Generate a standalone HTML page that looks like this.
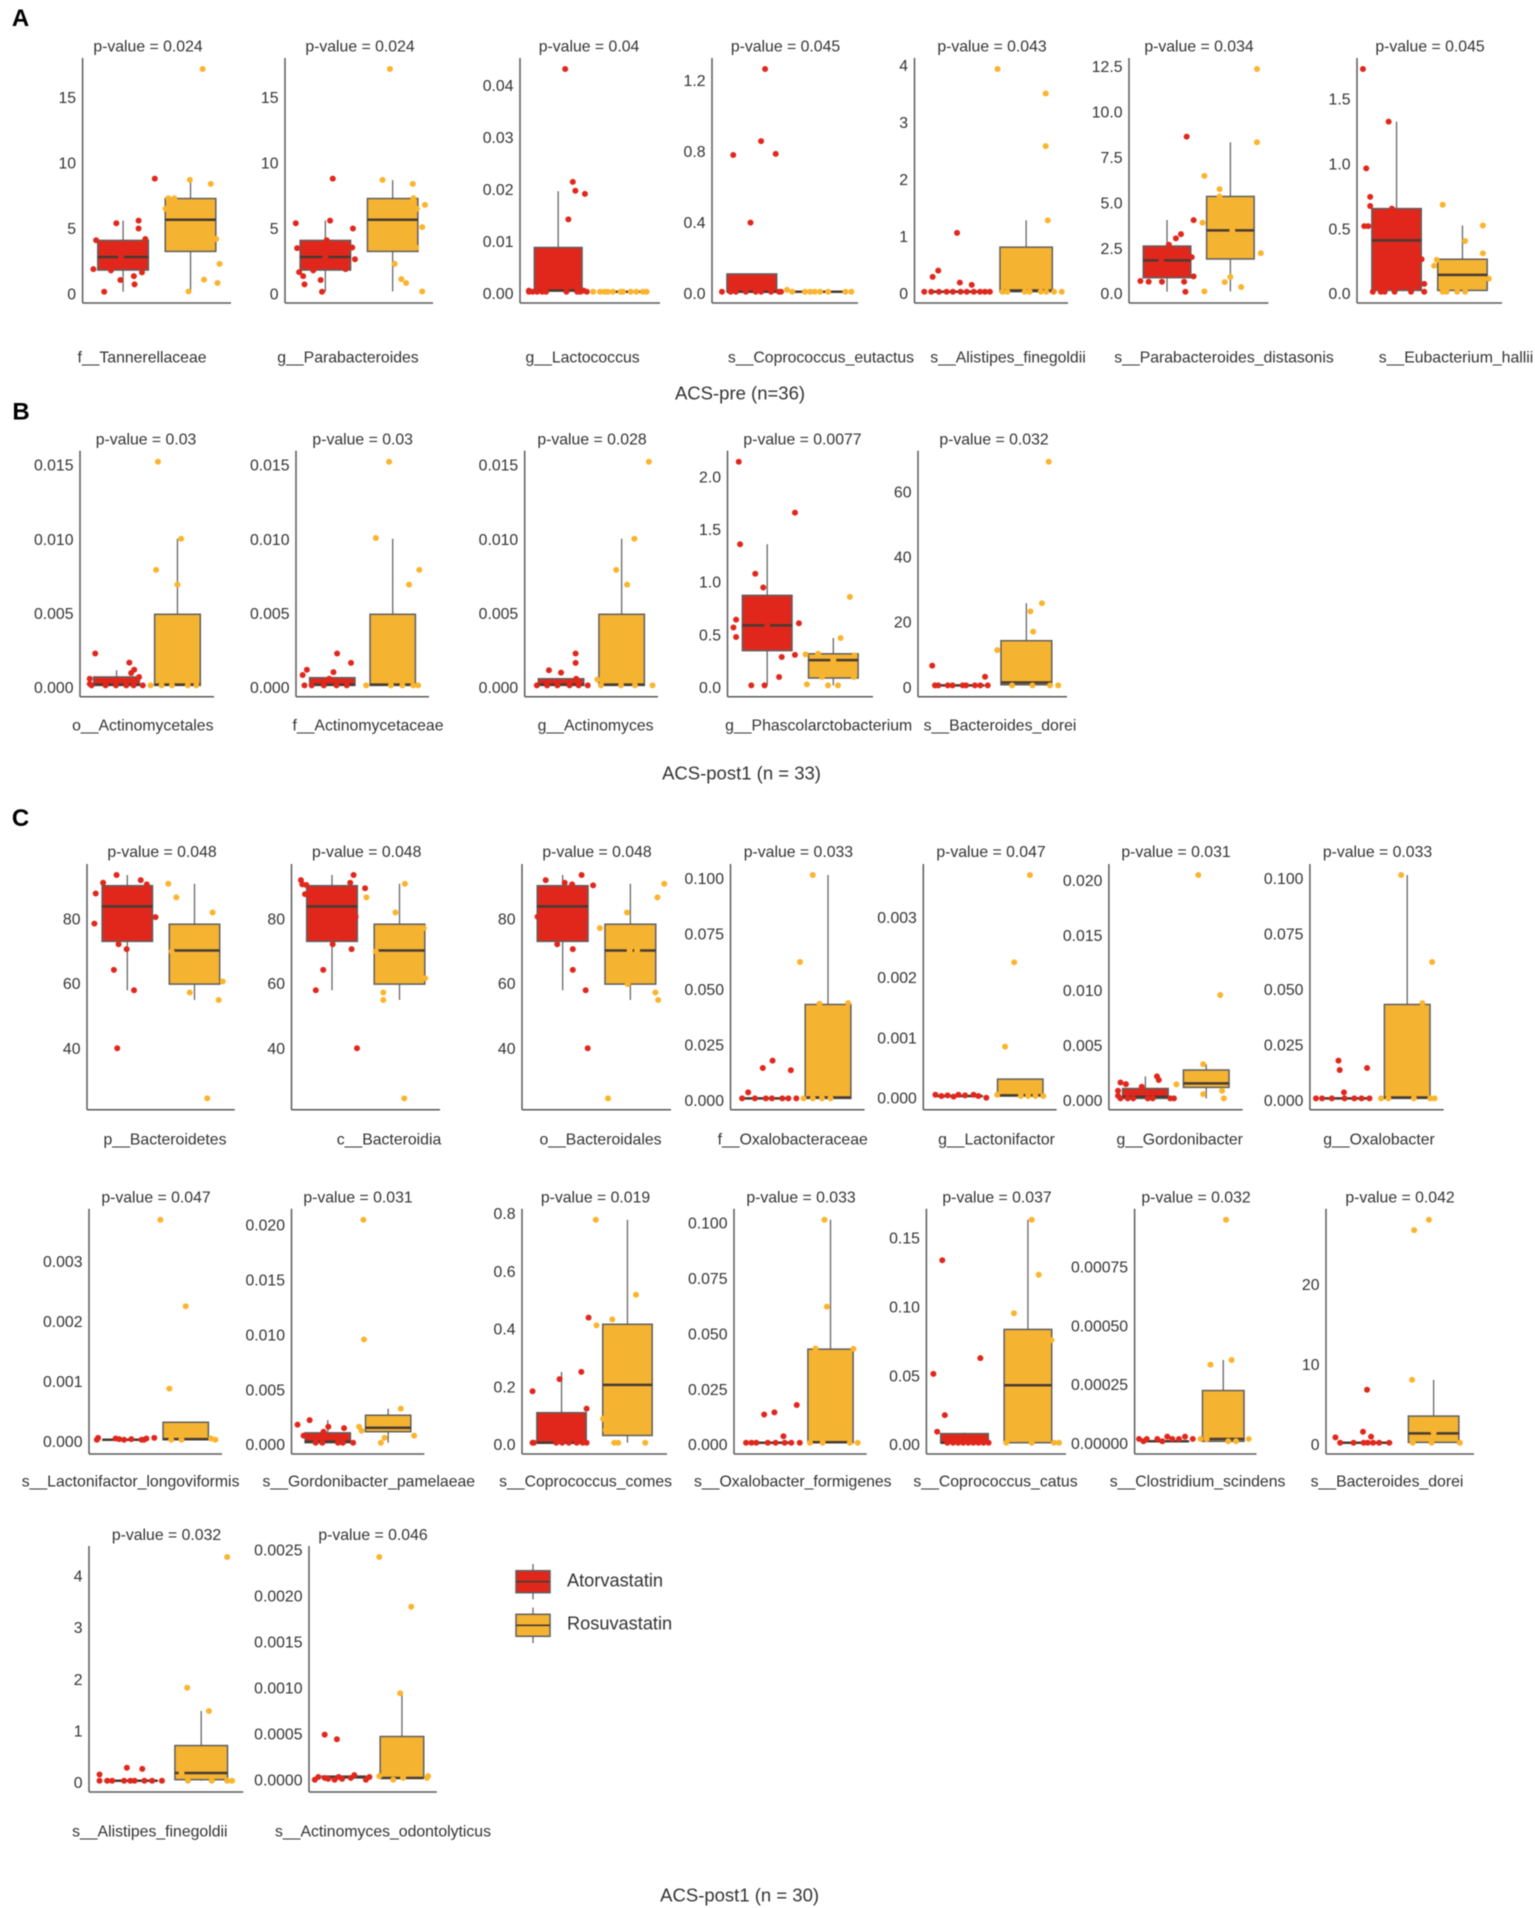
<!DOCTYPE html>
<html lang="en">
<head>
<meta charset="utf-8">
<title>Differential taxa boxplots: Atorvastatin vs Rosuvastatin</title>
<style>
html,body{margin:0;padding:0;background:#fff;}
#figure{display:block;width:1535px;height:1908px;filter:blur(.55px);font-family:"Liberation Sans",Arial,sans-serif;}
text{fill:#333333;}
</style>
</head>
<body>
<svg id="figure" xmlns="http://www.w3.org/2000/svg" width="1535" height="1908" viewBox="0 0 1535 1908">
<rect x="0" y="0" width="1535" height="1908" fill="#ffffff"></rect>
</svg>
<script>
/* ---------- DATA ---------- */
const taxa = ["f__Tannerellaceae","g__Parabacteroides","g__Lactococcus","s__Coprococcus_eutactus","s__Alistipes_finegoldii","s__Parabacteroides_distasonis","s__Eubacterium_hallii",
"o__Actinomycetales","f__Actinomycetaceae","g__Actinomyces","g__Phascolarctobacterium","s__Bacteroides_dorei",
"p__Bacteroidetes","c__Bacteroidia","o__Bacteroidales","f__Oxalobacteraceae","g__Lactonifactor","g__Gordonibacter","g__Oxalobacter",
"s__Lactonifactor_longoviformis","s__Gordonibacter_pamelaeae","s__Coprococcus_comes","s__Oxalobacter_formigenes","s__Coprococcus_catus","s__Clostridium_scindens","s__Bacteroides_dorei",
"s__Alistipes_finegoldii","s__Actinomyces_odontolyticus"];

const pValues = ["0.024","0.024","0.04","0.045","0.043","0.034","0.045",
"0.03","0.03","0.028","0.0077","0.032",
"0.048","0.048","0.048","0.033","0.047","0.031","0.033",
"0.047","0.031","0.019","0.033","0.037","0.032","0.042",
"0.032","0.046"];

const yTickLabels = [
["0","5","10","15"],["0","5","10","15"],["0.00","0.01","0.02","0.03","0.04"],["0.0","0.4","0.8","1.2"],["0","1","2","3","4"],["0.0","2.5","5.0","7.5","10.0","12.5"],["0.0","0.5","1.0","1.5"],
["0.000","0.005","0.010","0.015"],["0.000","0.005","0.010","0.015"],["0.000","0.005","0.010","0.015"],["0.0","0.5","1.0","1.5","2.0"],["0","20","40","60"],
["40","60","80"],["40","60","80"],["40","60","80"],["0.000","0.025","0.050","0.075","0.100"],["0.000","0.001","0.002","0.003"],["0.000","0.005","0.010","0.015","0.020"],["0.000","0.025","0.050","0.075","0.100"],
["0.000","0.001","0.002","0.003"],["0.000","0.005","0.010","0.015","0.020"],["0.0","0.2","0.4","0.6","0.8"],["0.000","0.025","0.050","0.075","0.100"],["0.00","0.05","0.10","0.15"],["0.00000","0.00025","0.00050","0.00075"],["0","10","20"],
["0","1","2","3","4"],["0.0000","0.0005","0.0010","0.0015","0.0020","0.0025"]];

const yDomains = [
[0.03,17],[0.03,17],[0,0.0428],[0,1.254],[0,3.9],[0,12.25],[0,1.715],
[0,0.0151],[0,0.0151],[0,0.0151],[0,2.124],[0,68.6],
[23.9,92.9],[23.9,92.9],[23.9,92.9],[0,0.1006],[-0.00004,0.00367],[0,0.0203],[0,0.1006],
[-0.00005,0.00366],[0,0.0203],[0,0.772],[0,0.1006],[0,0.162],[-0.000006,0.000943],[0,27.8],
[0,4.33],[-0.00003,0.0024]];

/* box stats: q1, median, q3, whisker low, whisker high */
const atorBoxes = [
[1.68,2.67,3.94,0.03,5.45],[1.68,2.67,3.94,0.03,5.45],[0.0002,0.0002,0.0085,0,0.0193],[0,0,0.1,0,0.1],[0,0,0,0,0],[0.77,1.72,2.51,0,3.94],[0.01,0.395,0.64,0,1.31],
[0,0.00005,0.00057,0,0.00102],[0,0.00005,0.00052,0,0.00052],[0,0.00005,0.00045,0,0.00045],[0.33,0.57,0.855,0,1.34],[0,0,0,0,0],
[72.4,83.2,89.6,57.3,92.9],[72.4,83.2,89.6,57.3,92.9],[72.4,83.2,89.6,57.3,92.9],[0,0,0,0,0],[0,0,0,0,0],[0,0.00015,0.0009,0,0.002],[0,0,0,0,0],
[0,0,0,0,0],[0,0.0001,0.0009,0,0.00206],[0,0,0.104,0,0.245],[0,0,0,0,0],[0,0,0.0066,0,0.0073],[0,0,0,0,0],[0,0,0,0,0],
[0,0,0,0,0],[0,0.00001,0.00002,0,0.00002]];

const rosuBoxes = [
[3.1,5.51,7.13,0.05,8.53],[3.1,5.51,7.13,0.05,8.53],[0,0,0,0,0],[0,0,0,0,0],[0,0.02,0.78,0,1.25],[1.8,3.37,5.24,0.02,8.22],[0.01,0.13,0.25,0,0.51],
[0,0.00005,0.0048,0,0.0099],[0,0.00005,0.0048,0,0.0099],[0,0.00005,0.0048,0,0.0099],[0.07,0.24,0.3,0,0.45],[0.2,0.9,13.7,0,25.2],
[59.2,69.6,77.7,54.3,90.2],[59.2,69.6,77.7,54.3,90.2],[59.2,69.6,77.7,54.3,90.2],[0,0.0004,0.0423,0,0.1006],[0,0.00001,0.00028,0,0.00028],[0.001,0.00136,0.00258,0,0.0031],[0,0.0004,0.0423,0,0.1006],
[0,0.00001,0.00029,0,0.00029],[0.001,0.00136,0.0025,0,0.0031],[0.025,0.2,0.41,0,0.772],[0,0.0002,0.0422,0,0.1006],[0,0.0417,0.0823,0,0.162],[0,0.00001,0.000216,0,0.000346],[0.04,1.16,3.32,0,7.84],
[0.02,0.15,0.68,0,1.35],[0,0,0.00045,0,0.00092]];

/* jittered observations: [offset from category centre in category units, value] */
const atorPoints = [
[[.47,8.65],[-.1,5.25],[.23,5.45],[.23,4.85],[-.4,3.95],[.33,4.05],[-.44,1.75],[-.18,1.65],[.28,1.5],[.16,1.22],[-.04,.92],[.17,.59],[-.28,.03],[-.03,2.67]],
[[.11,8.65],[-.44,5.25],[.07,5.45],[.41,4.85],[.02,3.95],[-.42,3.35],[.4,3.4],[.44,2.5],[-.39,1.52],[-.33,1.22],[-.07,.92],[-.31,.59],[-.05,.03],[-.18,1.65],[.3,1.75],[0,2.67]],
[[.11,.0428],[.23,.0211],[.27,.0194],[.42,.0188],[.16,.0139],[-.46,.0002],[-.46,0],[-.4,0],[-.33,0],[-.25,0],[-.19,0],[.13,0],[.3,0],[.35,0],[.4,.0002],[.45,0]],
[[.2,1.254],[.14,.848],[-.28,.77],[.36,.776],[-.02,.389],[-.45,0],[-.32,0],[-.24,0],[-.09,0],[.06,0],[.14,0],[.29,0],[.41,0],[.44,0]],
[[.01,1.03],[-.26,.37],[-.34,.26],[.05,.16],[.22,.12],[-.46,0],[-.36,0],[-.25,0],[-.14,0],[-.05,0],[.06,0],[.15,0],[.25,0],[.34,0],[.41,0],[.48,0]],
[[.31,8.53],[.22,3.17],[.14,2.93],[.42,3.94],[.03,2.58],[.39,1.9],[.42,.84],[-.42,.59],[-.29,.55],[-.08,.55],[.27,.55],[.29,0],[-.09,1.67]],
[[-.51,1.715],[-.12,1.31],[-.46,.95],[-.4,.73],[-.4,.66],[-.49,.505],[-.43,.505],[-.07,.64],[.38,.25],[.42,.06],[.42,0],[-.36,0],[-.24,0],[-.18,0],[-.03,0],[.22,0]],
[[-.35,.00215],[.21,.00154],[.29,.00106],[.24,.00084],[-.44,.00045],[-.44,.0001],[.37,.00057],[-.41,0],[-.18,0],[-.01,0],[.16,0],[.28,0],[.43,0]],
[[.08,.00215],[.31,.00152],[.02,.0009],[-.42,.00106],[-.49,.0007],[-.05,.00045],[-.46,0],[-.34,0],[-.14,0],[.07,0],[.24,0]],
[[.24,.00215],[.24,.00152],[0,.00086],[-.2,.00102],[.25,.00045],[-.4,0],[-.23,0],[-.06,0],[.14,0],[.29,0],[.44,0]],
[[-.43,2.124],[.42,1.64],[-.41,1.34],[-.18,1.06],[-.06,.93],[-.47,.625],[-.51,.55],[-.47,.46],[.48,.59],[.22,.27],[.42,.29],[.18,.08],[-.24,0],[-.04,0],[0,.57]],
[[-.39,6.05],[.39,2.67],[-.35,0],[-.3,0],[-.16,0],[-.09,0],[.06,0],[.11,0],[.24,0],[.32,0],[.43,0]],
[[-.16,92.9],[.2,91.3],[-.36,90.5],[.29,90],[-.47,87.2],[.42,79.9],[-.49,77.9],[-.13,71.5],[-.01,70],[-.2,63.6],[.1,57.3],[-.15,39.4]],
[[.32,92.9],[.27,90.5],[-.46,91.3],[-.44,90],[-.38,89.8],[-.4,87],[.49,88.8],[.35,80],[.01,71.5],[.29,70],[-.13,63.6],[-.24,57.3],[.37,39.4]],
[[.28,92.9],[-.25,91.3],[.03,90.5],[.14,90],[.45,89.7],[-.37,80],[.34,80],[-.08,71.5],[.15,70],[.15,63.6],[.34,57.3],[.37,39.4]],
[[.09,.017],[-.07,.0137],[.39,.01265],[-.31,.0027],[-.41,0],[-.2,0],[-.02,0],[.08,0],[.25,0],[.35,0],[.48,0]],
[[-.4,.00002],[-.3,0],[-.2,.00001],[-.1,-.00001],[-.02,.00002],[.09,.00001],[.23,.00002],[.31,0],[.44,-.00003]],
[[.19,.002],[.22,.00167],[-.41,.00145],[-.32,.0013],[-.06,.00106],[-.45,.0007],[-.45,.00024],[-.41,0],[-.29,0],[-.2,0],[.04,0],[.12,0],[.41,0],[.47,0]],
[[-.13,.017],[-.11,.0128],[.34,.0137],[-.04,.0027],[-.5,0],[-.4,0],[-.24,0],[-.03,0],[.13,0],[.25,0],[.38,0]],
[[-.47,0],[-.45,.00003],[-.16,.00002],[-.02,0],[.27,0],[.35,.00002],[.48,.00003],[-.1,.00001],[.1,.00001],[.31,0]],
[[-.3,.00206],[-.5,.00164],[.01,.00145],[.27,.00133],[-.07,.001],[-.4,.00064],[-.2,0],[-.09,0],[.17,0],[.25,0],[.42,0]],
[[.41,.433],[.3,.245],[-.03,.22],[-.44,.178],[.38,.118],[-.44,0],[-.42,0],[-.08,0],[.01,0],[.11,0],[.23,0],[.32,0],[.38,0]],
[[-.1,.0127],[.07,.0137],[.44,.017],[.22,.0029],[-.4,0],[-.31,0],[-.23,0],[-.04,0],[.09,0],[.24,0],[.35,0],[.49,0]],
[[-.35,.1325],[.25,.0614],[-.49,.05],[-.31,.02],[-.43,.008],[-.27,0],[-.18,0],[-.1,0],[-.02,0],[.06,0],[.14,0],[.22,0],[.3,0],[.38,0]],
[[-.52,.00001],[-.44,0],[-.38,.00001],[-.19,.00001],[-.1,0],[-.01,.00002],[.08,.00001],[.2,.00001],[.31,.00002],[.45,.00001]],
[[.01,6.6],[-.05,1.37],[-.46,.66],[.07,.75],[-.39,0],[-.19,0],[-.04,0],[.02,0],[.1,0],[.19,0],[.34,0]],
[[-.06,.25],[.16,.23],[-.45,.12],[-.45,0],[-.34,0],[-.27,0],[-.1,0],[-.01,0],[.05,0],[.19,0],[.3,0],[.44,0]],
[[-.33,.00047],[-.12,.00042],[-.5,-.00002],[-.44,.00001],[-.33,0],[-.27,-.00001],[-.16,-.00002],[-.09,.00001],[-.03,-.00001],[.12,0],[.18,.00003],[.38,-.00002],[.44,.00001]]
];

const rosuPoints = [
[[.18,17],[-.01,8.55],[.3,8.25],[-.33,7.15],[-.24,7.15],[-.37,6.35],[.38,4.05],[.43,2.15],[.2,.95],[.4,.69],[-.03,.05]],
[[-.04,17],[-.15,8.55],[.3,8.25],[.31,7.15],[.29,6.9],[.48,6.65],[.36,6.35],[.44,4.95],[.35,3.4],[.03,2.15],[.13,.99],[.2,.69],[.44,.05]],
[[-.45,0],[-.34,0],[-.27,0],[-.22,0],[-.14,0],[-.02,0],[.02,0],[.14,0],[.23,0],[.33,0],[.39,0]],
[[-.47,.01],[-.39,0],[-.2,0],[-.12,0],[-.05,0],[.03,0],[.15,0],[.41,0],[.5,0]],
[[-.41,3.9],[.28,3.47],[.28,2.55],[.31,1.25],[-.34,0],[-.27,0],[-.02,0],[.05,0],[.21,0],[.29,0],[.4,0],[.51,0]],
[[.42,12.25],[.42,8.22],[-.41,6.37],[-.17,5.64],[-.44,3.79],[.48,2.12],[0,.81],[-.09,.53],[.17,.26],[-.41,.02],[.03,3.37],[-.17,5.24]],
[[-.3,.67],[.31,.51],[.04,.39],[.31,.295],[-.43,.2],[-.39,.245],[.4,.1],[-.3,0],[-.24,0],[-.08,0],[.04,0]],
[[-.32,.0151],[.06,.0099],[-.35,.0078],[0,.0068],[-.44,0],[-.26,0],[-.09,0],[.17,0],[.31,0]],
[[-.06,.0151],[-.28,.00995],[.44,.0078],[.27,.0068],[-.44,0],[-.03,0],[.16,0],[.34,0],[.42,0]],
[[.45,.0151],[.21,.0099],[-.09,.0078],[.09,.0068],[-.4,.0004],[-.34,0],[-.01,0],[.22,0],[.51,0]],
[[.25,.84],[.11,.45],[-.42,.295],[-.23,.3],[.32,.285],[-.4,.01],[-.08,0],[.07,0],[-.17,.08],[.31,.08],[0,.24]],
[[.33,68.6],[.23,25.2],[.06,22.7],[.1,16.5],[-.43,10.8],[-.21,0],[.09,0],[.35,0],[.47,0]],
[[-.39,90.2],[-.27,86],[.27,81.3],[-.34,69.3],[.42,60],[-.07,56.6],[.36,54.3],[.19,23.9]],
[[.08,90.2],[-.49,86],[-.06,81.3],[.36,76.5],[-.35,69.3],[.38,61],[-.24,56.6],[-.24,54.3],[.07,23.9]],
[[.5,90.2],[.4,86],[-.05,81.3],[-.45,76.5],[-.01,69.6],[.1,69.6],[-.04,59.2],[.37,56.6],[.41,54.3],[-.33,23.9]],
[[-.25,.1006],[-.46,.0614],[-.14,.0426],[.33,.0429],[-.4,0],[-.25,0],[-.1,0],[.04,0]],
[[.16,.00367],[-.1,.00222],[-.25,.00082],[-.38,.00002],[.01,0],[.13,0],[.25,0],[.38,0]],
[[-.13,.0203],[.23,.0094],[-.05,.0031],[-.49,.00127],[.26,.0007],[-.05,.00039],[.29,0]],
[[-.1,.1006],[.41,.0614],[.25,.0429],[-.43,0],[-.31,0],[.11,0],[.38,0],[.45,0]],
[[-.42,.00366],[0,.00222],[-.27,.00085],[-.24,0],[-.07,0],[.42,.00002],[.49,0]],
[[-.41,.0203],[-.4,.0094],[.21,.0031],[-.48,.00145],[-.44,.00109],[-.06,.00045],[-.12,0],[.43,.00064]],
[[-.48,.772],[.13,.512],[-.23,.427],[-.47,.406],[-.37,.083],[-.33,.043],[-.2,0],[-.14,0],[.27,0]],
[[-.1,.1006],[-.06,.0614],[-.25,.0425],[.38,.0423],[-.34,0],[-.13,0],[.32,0],[.45,0]],
[[.06,.162],[.17,.122],[-.22,.094],[.37,.0745],[-.34,0],[.06,0],[.41,0],[.49,0]],
[[.05,.000943],[.15,.000346],[-.23,.000326],[-.41,.00001],[-.3,.00001],[.09,0],[.23,0],[.46,.00001]],
[[-.07,27.8],[-.29,26.5],[-.32,7.84],[-.31,0],[-.03,0],[.39,0],[0,1.24]],
[[.37,4.33],[-.2,1.8],[.11,1.35],[-.28,.15],[-.19,0],[.15,0],[.37,0],[.44,0]],
[[-.39,.0024],[.16,.00186],[-.03,.00092],[-.39,.00002],[-.15,-.00002],[.45,.00002],[.43,0],[.02,0]]
];

const legendLabels = ["Atorvastatin","Rosuvastatin"];
const panelLetters = ["A","B","C"];
const sectionTitles = ["ACS-pre (n=36)","ACS-post1 (n = 33)","ACS-post1 (n = 30)"];

/* ---------- LAYOUT ---------- */
const axisExtents = [
[82.6,231],[285,433],[520,660],[712,858],[914.5,1068],[1129,1268.4],[1357,1502],
[80,214],[296,429],[524.7,658],[727.5,873],[918,1067],
[87,234.8],[291.5,440],[522,671],[730.5,864.6],[923.3,1056.6],[1108.9,1242.7],[1309.9,1443.7],
[89,222],[291.5,424.4],[522,667],[734,866.7],[926.4,1066],[1134.6,1256.5],[1326,1474],
[89,243.3],[309,436.8]];
const rowBands = [[58,303,46,357],[450.7,696.7,439,725],[864,1109.7,851.7,1139],[1208.7,1454,1197,1481],[1546,1792,1534.5,1831]];
const rowOfPanel = [0,0,0,0,0,0,0,1,1,1,1,1,2,2,2,2,2,2,2,3,3,3,3,3,3,3,4,4];
const titleCentres = [148,360,589,785.5,992,1199,1430,146,362.7,592,802.5,994,162,366.7,597,798.4,991,1176,1377.5,156,358,595.5,801,997,1196,1400,166.5,373];
const labelCentres = [142,348,582.6,821,1008,1224,1456,142.8,368,595.6,818.7,1000,165,389,600.5,792.7,996.5,1179.7,1379,130.6,368.8,585.6,792.8,995.5,1197.6,1387,149.8,383];

const RED = "#e1271c";
const ORANGE = "#f5b332";
const DOT_ORANGE = "#fbb42c";
const FONT = 15.8;
const svg = document.getElementById("figure");
const NS = "http://www.w3.org/2000/svg";

function make(tag, attrs, parent) {
  const e = document.createElementNS(NS, tag);
  for (const k in attrs) e.setAttribute(k, attrs[k]);
  parent.appendChild(e);
  return e;
}
function addText(parent, x, y, str, size, anchor, weight) {
  const t = make("text", {x: x, y: y + size * 0.35, "font-size": size, "text-anchor": anchor || "middle", "font-weight": weight || "normal"}, parent);
  t.textContent = str;
  return t;
}

/* axis functions */
function yScale(i) {
  const band = rowBands[rowOfPanel[i]];
  const lo = yDomains[i][0], hi = yDomains[i][1];
  const y0 = band[1] - 11.3, y1 = band[0] + 11;
  return function (v) { return y0 - (v - lo) / (hi - lo) * (y0 - y1); };
}
function xScale(i) {
  const l = axisExtents[i][0], r = axisExtents[i][1];
  return function (c) { return l + (c - 0.4) / 2.2 * (r - l); };
}

function drawBox(g, stats, cat, x, y, fill, nameBase) {
  const cx = x(cat), xl = x(cat - 0.375), xr = x(cat + 0.375);
  const whisker = make("line", {x1: cx, x2: cx, y1: y(stats[3]), y2: y(stats[4]), stroke: "#666", "stroke-width": 1.3}, g);
  
  
  const rect = make("rect", {x: xl, y: y(stats[2]), width: xr - xl, height: Math.max(0.4, y(stats[0]) - y(stats[2])), fill: fill, stroke: "#5f5f5f", "stroke-width": 1.5}, g);
  
  
  const med = make("line", {x1: xl, x2: xr, y1: y(stats[1]), y2: y(stats[1]), stroke: "#473b33", "stroke-width": 2.5}, g);
  
  
}
function drawPoints(g, pts, cat, x, y, fill, name) {
  pts.forEach(function (p) {
    const dot = make("circle", {cx: x(cat + p[0]), cy: y(p[1]), r: 3, fill: fill}, g);
    
    
  });
}

taxa.forEach(function (name, i) {
  const band = rowBands[rowOfPanel[i]];
  const x = xScale(i), y = yScale(i);
  const ext = axisExtents[i];
  const g = make("g", {}, svg);
  
  

  const title = addText(g, titleCentres[i], band[2], "p-value = " + pValues[i], FONT);
  
  

  yTickLabels[i].forEach(function (lab) {
    const tick = addText(g, ext[0] - 6.5, y(parseFloat(lab)) + 2, lab, FONT, "end");
    
    
  });

  const xl = addText(g, labelCentres[i], band[3], name, FONT);
  
  

  drawBox(g, atorBoxes[i], 1, x, y, RED, "atorvastatin");
  drawBox(g, rosuBoxes[i], 2, x, y, ORANGE, "rosuvastatin");
  drawPoints(g, atorPoints[i], 1, x, y, RED, "atorvastatin-point");
  drawPoints(g, rosuPoints[i], 2, x, y, DOT_ORANGE, "rosuvastatin-point");

  const yAxis = make("line", {x1: ext[0], x2: ext[0], y1: band[0], y2: band[1], stroke: "#5a5a5a", "stroke-width": 1.5}, g);
  
  
  const xAxis = make("line", {x1: ext[0], x2: ext[1], y1: band[1], y2: band[1], stroke: "#5a5a5a", "stroke-width": 1.5}, g);
  
  
});

/* panel letters and section titles */
const letterSpots = [[20.5,17.5],[21,411],[20.5,817.5]];
panelLetters.forEach(function (L, i) {
  const t = addText(svg, letterSpots[i][0], letterSpots[i][1], L, 24, "middle", "bold");
  t.style.fill = "#000";
  
  
});
const sectionSpots = [[740,393],[741.5,773],[739.6,1895]];
sectionTitles.forEach(function (s, i) {
  const t = addText(svg, sectionSpots[i][0], sectionSpots[i][1], s, 18.5);
  
  
});

/* legend */
const legend = make("g", {}, svg);


const legendFills = [RED, ORANGE];
const legendTops = [1570.7, 1614.3];
const legendTextY = [1580, 1623];
legendLabels.forEach(function (lab, i) {
  const top = legendTops[i];
  const entry = make("g", {}, legend);
  
  
  make("line", {x1: 533, x2: 533, y1: top - 6.7, y2: top + 28.7, stroke: "#666", "stroke-width": 1.3}, entry);
  make("rect", {x: 516, y: top, width: 34, height: 22, fill: legendFills[i], stroke: "#5f5f5f", "stroke-width": 1.5}, entry);
  make("line", {x1: 516, x2: 550, y1: top + 11, y2: top + 11, stroke: "#473b33", "stroke-width": 1.6}, entry);
  const t = addText(entry, 567, legendTextY[i], lab, 18.2, "start");
  
  
});
</script>
</body>
</html>
